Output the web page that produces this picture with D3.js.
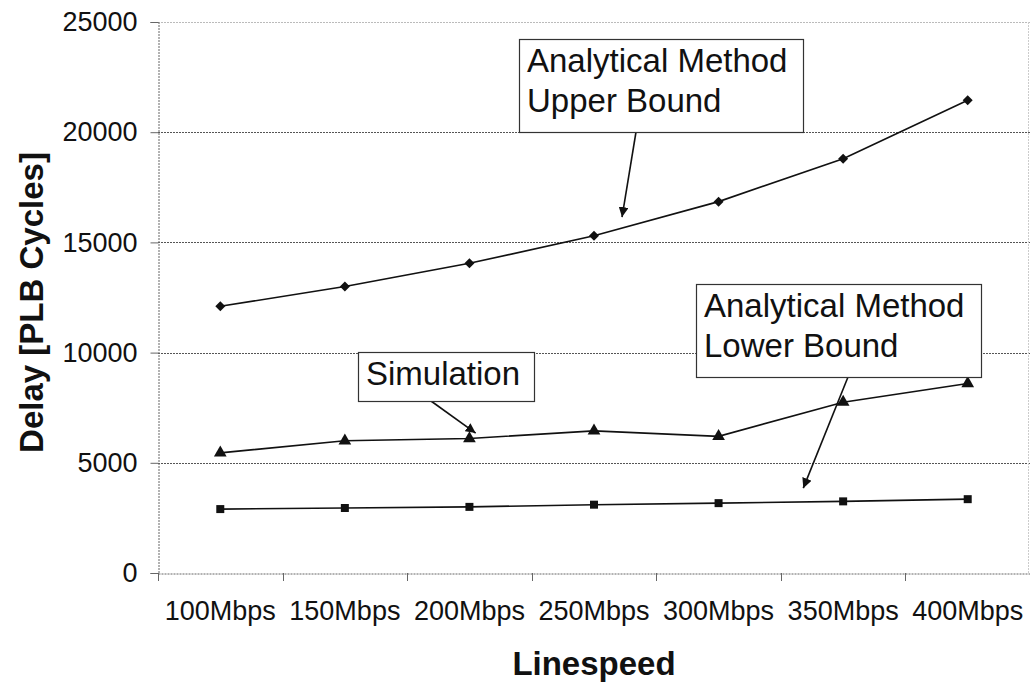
<!DOCTYPE html>
<html>
<head>
<meta charset="utf-8">
<script src="https://cdn.jsdelivr.net/npm/d3@7"></script>
<style>
  html, body { margin: 0; padding: 0; background: #fff; }
  svg { display: block; font-family: "Liberation Sans", Arial, sans-serif; }
</style>
</head>
<body>
<svg id="chart" width="1030" height="683"></svg>
<script>
// ---- data ----
const categories = ["100Mbps", "150Mbps", "200Mbps", "250Mbps", "300Mbps", "350Mbps", "400Mbps"];
const upperBound = [12100, 13000, 14050, 15300, 16850, 18800, 21450];
const simulation = [5450, 6000, 6100, 6450, 6200, 7750, 8600];
const lowerBound = [2900, 2950, 3000, 3100, 3170, 3250, 3350];
const yTicks = [0, 5000, 10000, 15000, 20000, 25000];
const xTitle = "Linespeed";
const yTitle = "Delay [PLB Cycles]";

// annotations: text lines, box (px), arrow tail (px) and arrow tip in data space (category index, value)
const annotations = [
  { lines: ["Analytical Method", "Upper Bound"], box: [519, 39, 284, 93], tail: [636, 132], tip: [3.225, 16150] },
  { lines: ["Simulation"], box: [358, 352, 176, 49], tail: [431, 401], tip: [2.05, 6350] },
  { lines: ["Analytical Method", "Lower Bound"], box: [696, 284, 285, 93], tail: [848, 377], tip: [4.68, 3850] }
];

// ---- layout ----
const svg = d3.select("#chart");
const mLeft = 158, mRight = 1030, mTop = 22, mBottom = 573;

const x = d3.scaleBand().domain(categories).range([mLeft, mRight]).padding(0);
const xc = c => x(c) + x.bandwidth() / 2;
const xi = d3.scaleLinear().domain([0, categories.length - 1]).range([xc(categories[0]), xc(categories[categories.length - 1])]);
const y = d3.scaleLinear().domain([0, 25000]).range([mBottom, mTop]);

// gridlines
svg.append("g").selectAll("line").data(yTicks.filter(t => t > 0)).join("line")
  .attr("x1", mLeft).attr("x2", mRight)
  .attr("y1", d => Math.round(y(d)) + 0.5).attr("y2", d => Math.round(y(d)) + 0.5)
  .attr("stroke", d => d === 25000 ? "#bbb" : "#555")
  .attr("stroke-width", 1)
  .attr("stroke-dasharray", "2,1");

// right border of plot area
svg.append("line")
  .attr("x1", mRight - 1.5).attr("x2", mRight - 1.5).attr("y1", mTop).attr("y2", mBottom)
  .attr("stroke", "#ccc").attr("stroke-dasharray", "2,1");

// y axis
const yAxis = d3.axisLeft(y).tickValues(yTicks).tickSize(8).tickPadding(13).tickFormat(d3.format("d"));
const gy = svg.append("g").attr("transform", `translate(${mLeft + 0.5},0)`).call(yAxis);
gy.select(".domain").attr("stroke", "#666").attr("stroke-dasharray", "2,1");
gy.selectAll(".tick line").attr("stroke", "#666");
gy.selectAll(".tick text").attr("font-size", 27).attr("fill", "#111")
  .attr("font-family", "'Liberation Sans', Arial, sans-serif");

// x axis
const xAxis = d3.axisBottom(x).tickSize(0).tickPadding(27);
const gx = svg.append("g").attr("transform", `translate(0,${mBottom + 0.5})`).call(xAxis);
gx.select(".domain").attr("stroke", "#666").attr("stroke-dasharray", "2,1");
gx.selectAll(".tick text").attr("font-size", 27).attr("fill", "#111")
  .attr("font-family", "'Liberation Sans', Arial, sans-serif");
// x tick marks at band boundaries
svg.append("g").selectAll("line").data(categories).join("line")
  .attr("x1", d => Math.round(x(d)) + 0.5).attr("x2", d => Math.round(x(d)) + 0.5)
  .attr("y1", mBottom).attr("y2", mBottom + 8)
  .attr("stroke", "#666");

// axis titles
svg.append("text").text(xTitle)
  .attr("x", (mLeft + mRight) / 2).attr("y", 675)
  .attr("text-anchor", "middle").attr("font-size", 33).attr("font-weight", "bold").attr("fill", "#111");
svg.append("text").text(yTitle)
  .attr("transform", `translate(43,${(147 + 458) / 2}) rotate(-90)`)
  .attr("text-anchor", "middle").attr("font-size", 33).attr("font-weight", "bold").attr("fill", "#111");

// series
const series = [
  { values: lowerBound, symbol: d3.symbolSquare, size: 64, rotate: 0 },
  { values: simulation, symbol: d3.symbolTriangle, size: 70, rotate: 0 },
  { values: upperBound, symbol: d3.symbolSquare, size: 50, rotate: 45 }
];
const line = d3.line().x((d, i) => xc(categories[i])).y(d => y(d));
series.forEach(s => {
  svg.append("path").datum(s.values)
    .attr("d", line).attr("fill", "none").attr("stroke", "#111").attr("stroke-width", 1.6);
  svg.append("g").selectAll("path").data(s.values).join("path")
    .attr("transform", (d, i) => `translate(${xc(categories[i])},${y(d)}) rotate(${s.rotate})`)
    .attr("d", d3.symbol().type(s.symbol).size(s.size))
    .attr("fill", "#111");
});

// annotations
svg.append("defs").append("marker")
  .attr("id", "arrow").attr("viewBox", "0 0 10 10").attr("refX", 10).attr("refY", 5)
  .attr("markerWidth", 10).attr("markerHeight", 10).attr("markerUnits", "userSpaceOnUse")
  .attr("orient", "auto")
  .append("path").attr("d", "M0,0 L10,5 L0,10 Z").attr("fill", "#111");

annotations.forEach(a => {
  const [bx, by, bw, bh] = a.box;
  svg.append("line")
    .attr("x1", a.tail[0]).attr("y1", a.tail[1])
    .attr("x2", xi(a.tip[0])).attr("y2", y(a.tip[1]))
    .attr("stroke", "#111").attr("stroke-width", 1.6)
    .attr("marker-end", "url(#arrow)");
  svg.append("rect").attr("x", bx + 0.5).attr("y", by + 0.5).attr("width", bw).attr("height", bh)
    .attr("fill", "#fff").attr("stroke", "#333").attr("stroke-width", 1.2);
  const t = svg.append("text").attr("font-size", 33).attr("fill", "#111");
  a.lines.forEach((ln, i) => {
    t.append("tspan").attr("x", bx + 8).attr("y", by + 33 + i * 40).text(ln);
  });
});
</script>
</body>
</html>
